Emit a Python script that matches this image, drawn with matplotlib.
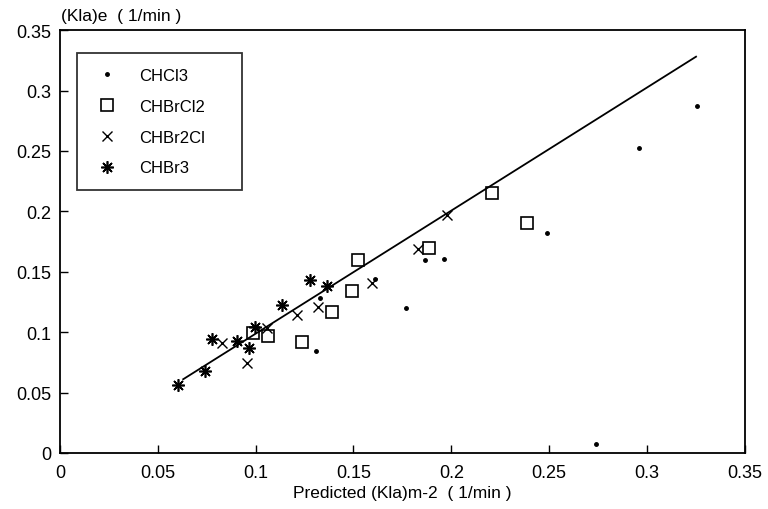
import numpy as np
import matplotlib
matplotlib.use("Agg")
import matplotlib.pyplot as plt

plt.rcParams['font.family'] = ['Liberation Sans', 'DejaVu Sans']

chcl3_x = [0.3253, 0.296, 0.2487, 0.1962, 0.1867, 0.161, 0.1768, 0.1306, 0.1329, 0.274]
chcl3_y = [0.2873, 0.2525, 0.1824, 0.1604, 0.160, 0.1442, 0.120, 0.0843, 0.128, 0.0075]

chbrcl2_x = [0.2206, 0.2388, 0.1887, 0.1524, 0.149, 0.1388, 0.1235, 0.1065, 0.0988]
chbrcl2_y = [0.2153, 0.190, 0.170, 0.1596, 0.1339, 0.1163, 0.092, 0.0968, 0.0996]

chbr2cl_x = [0.1976, 0.1831, 0.1593, 0.132, 0.121, 0.1056, 0.0954, 0.0826]
chbr2cl_y = [0.197, 0.169, 0.1406, 0.1205, 0.1144, 0.1038, 0.0745, 0.0912]

chbr3_x = [0.0605, 0.0741, 0.0775, 0.0903, 0.0967, 0.0996, 0.1136, 0.1279, 0.1363]
chbr3_y = [0.0563, 0.0675, 0.094, 0.0926, 0.087, 0.1043, 0.1224, 0.1433, 0.1378]

fit_x = [0.063, 0.325]
fit_y = [0.061, 0.328]

xticks = [0, 0.05, 0.1, 0.15, 0.2, 0.25, 0.3, 0.35]
yticks = [0, 0.05, 0.1, 0.15, 0.2, 0.25, 0.3, 0.35]
tick_labels = ['0', '0.05', '0.1', '0.15', '0.2', '0.25', '0.3', '0.35']

fig = plt.figure(figsize=(7.68, 5.10), dpi=100)
ax = fig.add_axes([0.078, 0.110, 0.892, 0.829])

ax.plot(fit_x, fit_y, color='black', linewidth=1.3)
ax.plot(chcl3_x, chcl3_y, linestyle='none', marker='.', markersize=5, color='black', label='CHCl3')
ax.plot(chbrcl2_x, chbrcl2_y, linestyle='none', marker='s', markersize=8.5, markerfacecolor='none',
        markeredgecolor='black', markeredgewidth=1.2, label='CHBrCl2')
ax.plot(chbr2cl_x, chbr2cl_y, linestyle='none', marker='x', markersize=7, color='black',
        markeredgewidth=1.0, label='CHBr2Cl')
ax.plot(chbr3_x, chbr3_y, linestyle='none', marker=(8, 2, 0), markersize=9, color='black',
        markeredgewidth=1.2, label='CHBr3')

ax.set_xlim(0, 0.35)
ax.set_ylim(0, 0.35)
ax.set_xticks(xticks)
ax.set_xticklabels(tick_labels)
ax.set_yticks(yticks)
ax.set_yticklabels(tick_labels)
ax.tick_params(direction='in', length=6, width=1, labelsize=13, top=False, right=False)
ax.tick_params(axis='x', pad=8)
ax.tick_params(axis='y', pad=6)
for s in ax.spines.values():
    s.set_linewidth(1.3)

ax.set_xlabel('Predicted (Kla)m-2  ( 1/min )', fontsize=12.5, labelpad=3)
fig.text(0.079, 0.967, '(Kla)e  ( 1/min )', fontsize=12.5, ha='left', va='center')

leg = ax.legend(loc='upper left', bbox_to_anchor=(0.025, 0.946, 0.241, 0), mode='expand',
                frameon=True, fancybox=False, edgecolor='black', fontsize=12,
                handletextpad=1.0, labelspacing=0.95, borderpad=0.9, handlelength=1.8,
                borderaxespad=0, numpoints=1)
leg.get_frame().set_linewidth(1.3)

fig.savefig('out.png', dpi=100)
